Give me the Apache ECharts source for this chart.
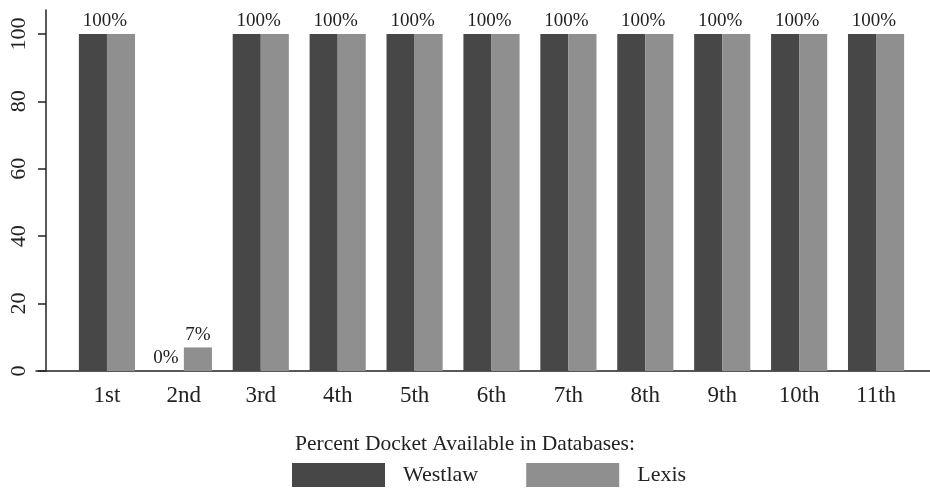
<!DOCTYPE html>
<html>
<head>
<meta charset="utf-8">
<script src="https://cdn.jsdelivr.net/npm/echarts@6/dist/echarts.min.js"></script>
<style>html,body{margin:0;padding:0;background:#fff}#c{width:930px;height:491px}</style>
</head>
<body>
<div id="c"></div>
<script>
var categories = ['1st','2nd','3rd','4th','5th','6th','7th','8th','9th','10th','11th'];
var westlaw = [100,0,100,100,100,100,100,100,100,100,100];
var lexis = [100,7,100,100,100,100,100,100,100,100,100];
var yTicks = [0,20,40,60,80,100];
var legendTitle = 'Percent Docket Available in Databases:';

var font = 'Liberation Serif';
var chart = echarts.init(document.getElementById('c'));

var westData = westlaw.map(function(v){
  return {value: v, label: {show: true, offset: v >= 100 ? [12, 0] : [-4, 0]}};
});
var lexisData = lexis.map(function(v){
  return {value: v, label: {show: v < 100}};
});

chart.setOption({
  animation: false,
  backgroundColor: '#fff',
  title: {
    text: legendTitle, left: 'center', top: 428,
    textStyle: {fontFamily: font, fontSize: 21.5, fontWeight: 'normal', color: '#222'}
  },
  legend: {
    data: ['Westlaw','Lexis'], top: 458, left: 287,
    itemWidth: 93, itemHeight: 24, itemGap: 48, icon: 'rect',
    textStyle: {fontFamily: font, fontSize: 22, color: '#222', padding: [0,0,0,13]}
  },
  grid: [
    {left: 68.5, right: 15.5, top: 10, bottom: 120},
    {left: 36, right: 0, top: 10, bottom: 120}
  ],
  xAxis: [
    {type: 'category', data: categories, gridIndex: 0,
     axisLine: {show: false}, axisTick: {show: false},
     axisLabel: {fontFamily: font, fontSize: 23, color: '#222', margin: 13}},
    {type: 'value', gridIndex: 1, min: 0, max: 1,
     axisLine: {show: true, lineStyle: {color: '#222', width: 1.5}},
     axisTick: {show: false}, axisLabel: {show: false}, splitLine: {show: false}}
  ],
  yAxis: [
    {type: 'value', gridIndex: 0, min: 0, max: 107.1, interval: 20, offset: 22.5,
     axisLine: {show: true, lineStyle: {color: '#222', width: 1.5}},
     axisTick: {show: true, length: 8, lineStyle: {color: '#222', width: 1.5}},
     axisLabel: {rotate: 90, fontFamily: font, fontSize: 22, color: '#222', margin: 16,
       showMaxLabel: false,
       formatter: function(v){ return yTicks.indexOf(v) >= 0 ? String(v) : ''; }},
     splitLine: {show: false}},
    {type: 'value', gridIndex: 1, min: 0, max: 1, show: false}
  ],
  series: [
    {name: 'Westlaw', type: 'bar', data: westData, barGap: '0%', barCategoryGap: '27%',
     itemStyle: {color: '#474747'},
     label: {position: 'top', distance: 3, formatter: '{c}%', fontFamily: font, fontSize: 19, color: '#222'}},
    {name: 'Lexis', type: 'bar', data: lexisData,
     itemStyle: {color: '#8f8f8f'},
     label: {position: 'top', distance: 3, formatter: '{c}%', fontFamily: font, fontSize: 19, color: '#222'}}
  ]
});
</script>
</body>
</html>
